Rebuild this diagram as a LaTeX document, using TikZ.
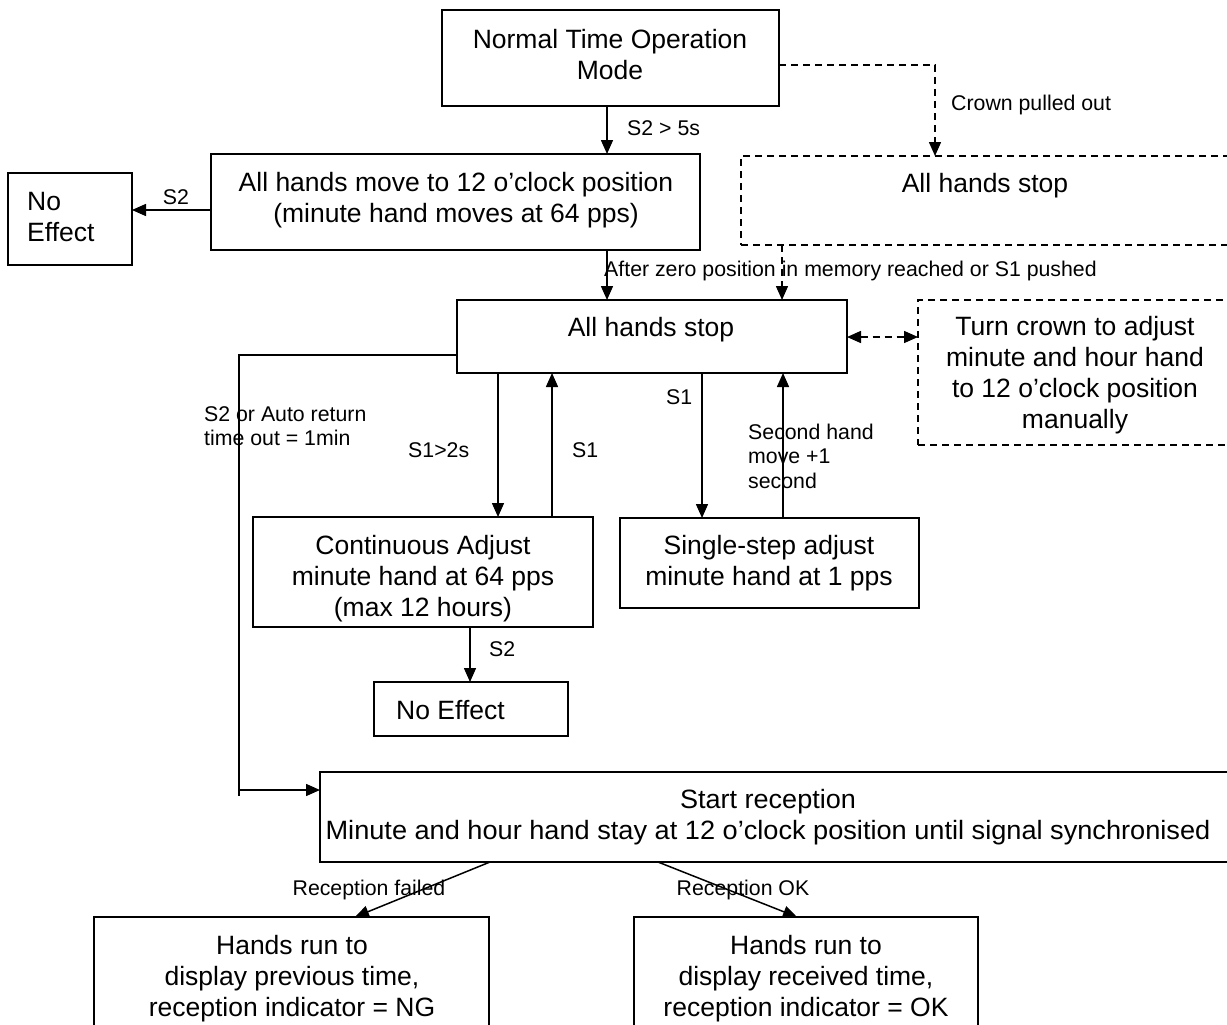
\documentclass[tikz,border=0pt]{standalone}
\usepackage{fontspec}
\setmainfont{Liberation Sans}
\usetikzlibrary{arrows.meta}
\begin{document}
\begin{tikzpicture}[x=1pt,y=-1pt,
  box/.style={draw, line width=1.5pt, inner sep=0pt, outer sep=0pt, anchor=north west},
  dbox/.style={box, dash pattern=on 7pt off 5pt},
  txt/.style={align=center, inner sep=0pt, yshift=-2.5pt, font=\fontsize{26.5}{31}\selectfont},
  ltxt/.style={align=left, inner sep=0pt, anchor=west, yshift=-2pt, font=\fontsize{26.5}{31}\selectfont},
  lbl/.style={align=left, inner sep=0pt, anchor=west, font=\fontsize{21.3}{24.5}\selectfont},
  clbl/.style={inner sep=0pt, font=\fontsize{21.3}{24.5}\selectfont},
  arr/.style={line width=1.5pt, -{Triangle[length=14pt,width=12pt]}},
  darr/.style={arr, dash pattern=on 7pt off 5pt},
  ddarr/.style={line width=1.5pt, dash pattern=on 7pt off 5pt, {Triangle[length=14pt,width=12pt]}-{Triangle[length=14pt,width=12pt]}},
  ln/.style={line width=1.5pt}
]
\useasboundingbox (0,0) rectangle (1227,1025);
\clip (0,0) rectangle (1227,1025);

% boxes
\node[box, minimum width=337, minimum height=96] (A) at (442,10) {};
\node[box, minimum width=489, minimum height=96] (B) at (211,154) {};
\node[box, minimum width=124, minimum height=92] (NE1) at (8,173) {};
\node[dbox, minimum width=500, minimum height=89] (DS) at (741,156) {};
\node[box, minimum width=390, minimum height=73] (C) at (457,300) {};
\node[dbox, minimum width=320, minimum height=145] (DR) at (918,300) {};
\node[box, minimum width=340, minimum height=110] (D) at (253,517) {};
\node[box, minimum width=299, minimum height=90] (F) at (620,518) {};
\node[box, minimum width=194, minimum height=54] (NE2) at (374,682) {};
\node[box, minimum width=920, minimum height=90] (E) at (320,772) {};
\node[box, minimum width=395, minimum height=130] (G) at (94,917) {};
\node[box, minimum width=344, minimum height=130] (H) at (634,917) {};

% texts
\node[txt] (At) at (610,52.5) {Normal Time Operation\\Mode};
\node[txt] (Bt) at (456,197.5) {All hands move to 12 o’clock position\\(minute hand moves at 64 pps)};
\node[ltxt] (NE1t) at (27,215.5) {No\\Effect};
\node[txt] (DSt) at (985,183) {All hands stop};
\node[txt] (Ct) at (651,327) {All hands stop};
\node[txt] (DRt) at (1075,373) {Turn crown to adjust\\minute and hour hand\\to 12 o’clock position\\manually};
\node[txt] (Dt) at (423,576) {Continuous Adjust\\minute hand at 64 pps\\(max 12 hours)};
\node[txt] (Ft) at (769,561) {Single-step adjust\\minute hand at 1 pps};
\node[ltxt] (NE2t) at (396,708) {No Effect};
\node[txt] (Et) at (768,815) {\scalebox{1.02}[1]{Start reception}\\\scalebox{1.025}[1]{Minute and hour hand stay at 12 o’clock position until signal synchronised}};
\node[txt] (Gt) at (292,976) {Hands run to\\display previous time,\\reception indicator = NG};
\node[txt] (Ht) at (806,976) {Hands run to\\display received time,\\reception indicator = OK};

% connectors
\draw[arr] (A.south -| 607,0) -- (B.north -| 607,0);
\draw[arr] (B.west |- 0,210) -- (NE1.east |- 0,210);
\draw[darr] (A.east |- 0,65) -| (DS.north -| 935,0);
\draw[arr] (B.south -| 607,0) -- (C.north -| 607,0);
\draw[darr] (DS.south -| 782,0) -- (C.north -| 782,0);
\draw[ddarr] (C.east |- 0,337) -- (DR.west |- 0,337);
\draw[arr] (C.west |- 0,355) -| (239,790) -- (E.west |- 0,790);
\draw[ln] (239,789) -- (239,796);
\draw[arr] (C.south -| 498,0) -- (D.north -| 498,0);
\draw[arr] (D.north -| 552,0) -- (C.south -| 552,0);
\draw[arr] (C.south -| 702,0) -- (F.north -| 702,0);
\draw[arr] (F.north -| 783,0) -- (C.south -| 783,0);
\draw[arr] (D.south -| 470,0) -- (NE2.north -| 470,0);
\draw[arr] (E.south -| 490,0) -- (G.north -| 355,0);
\draw[arr] (E.south -| 658,0) -- (H.north -| 797,0);

% labels
\node[lbl] (l1) at (627,128) {S2 > 5s};
\node[clbl] (l2) at (176,197) {S2};
\node[lbl] (l3) at (951,105) {Crown pulled out};
\node[lbl] (l4) at (604,271) {After zero position in memory reached or S1 pushed};
\node[lbl] (l5) at (204,426) {S2 or Auto return\\time out = 1min};
\node[lbl] (l6) at (408,450) {S1>2s};
\node[lbl] (l7) at (572,450) {S1};
\node[lbl] (l8) at (666,397) {S1};
\node[lbl] (l9) at (748,456) {Second hand\\move +1\\second};
\node[lbl] (l10) at (489,649) {S2};
\node[clbl] (l11) at (369,890) {Reception failed};
\node[clbl] (l12) at (743,890) {Reception OK};
\end{tikzpicture}
\end{document}
